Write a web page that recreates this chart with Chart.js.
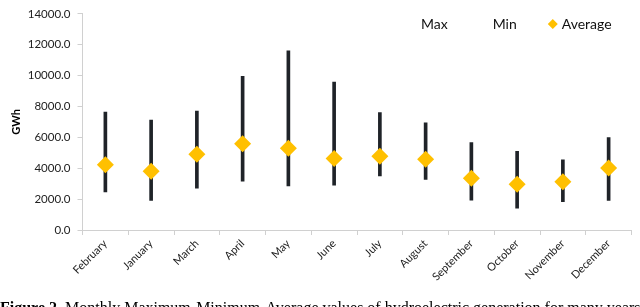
<!DOCTYPE html>
<html>
<head>
<meta charset="utf-8">
<script src="https://cdn.jsdelivr.net/npm/chart.js@4/dist/chart.umd.min.js"></script>
<style>
  html, body { margin: 0; padding: 0; background: #fff; }
  #wrap { position: relative; width: 640px; height: 307px; overflow: hidden; }
  #c { position: absolute; left: 0; top: 0; }
  #cap { position: absolute; left: 0; top: 300px; font-family: "Liberation Serif", serif; font-size: 16px; line-height: 16px; white-space: nowrap; color: #000; }
</style>
</head>
<body>
<div id="wrap">
  <canvas id="c" width="640" height="307"></canvas>
  <div id="cap"><b>Figure 2.</b> Monthly Maximum-Minimum-Average values of hydroelectric generation for many years</div>
</div>
<script>
const months = ["February","January","March","April","May","June","July","August","September","October","November","December"];
const maxValues = [7640, 7125, 7700, 9960, 11600, 9580, 7600, 6940, 5670, 5100, 4540, 5980];
const minValues = [2460, 1920, 2710, 3170, 2850, 2900, 3500, 3270, 1940, 1420, 1830, 1920];
const avgValues = [4230, 3810, 4900, 5580, 5290, 4640, 4770, 4580, 3360, 2960, 3120, 4020];
const yTicks = [0, 2000, 4000, 6000, 8000, 10000, 12000, 14000];

const rangeData = months.map((m, i) => [minValues[i], maxValues[i]]);
const FONT = "Lato, 'Liberation Sans', sans-serif";
const AXIS = '#d0d0d0';

// Excel-style legend drawn inside the plot, top right
const insideLegend = {
  id: 'insideLegend',
  afterDraw(chart) {
    const ctx = chart.ctx;
    const items = chart.data.datasets.filter(d => d.label !== 'range');
    let x = 407;
    const y = 24;
    ctx.save();
    ctx.font = '14px ' + FONT;
    ctx.textBaseline = 'middle';
    ctx.textAlign = 'left';
    items.forEach(d => {
      if (d.pointStyle === 'rectRot') {
        const cx = x + 5, r = 5;
        ctx.fillStyle = d.backgroundColor;
        ctx.beginPath();
        ctx.moveTo(cx, y - r); ctx.lineTo(cx + r, y); ctx.lineTo(cx, y + r); ctx.lineTo(cx - r, y);
        ctx.closePath(); ctx.fill();
      }
      x += 14;
      ctx.fillStyle = '#111';
      ctx.fillText(d.label, x, y);
      x += ctx.measureText(d.label).width + 31;
    });
    ctx.restore();
  }
};

new Chart(document.getElementById('c'), {
  data: {
    labels: months,
    datasets: [
      { type: 'line', label: 'Max', data: maxValues, showLine: false, pointRadius: 0, pointHoverRadius: 0,
        backgroundColor: 'rgba(0,0,0,0)', borderColor: 'rgba(0,0,0,0)', order: 1 },
      { type: 'line', label: 'Min', data: minValues, showLine: false, pointRadius: 0, pointHoverRadius: 0,
        backgroundColor: 'rgba(0,0,0,0)', borderColor: 'rgba(0,0,0,0)', order: 1 },
      { type: 'line', label: 'Average', data: avgValues, showLine: false, pointStyle: 'rectRot',
        pointRadius: 8.5, backgroundColor: '#FFC000', borderColor: '#FFC000', borderWidth: 0, order: 0 },
      { type: 'bar', label: 'range', data: rangeData, barThickness: 3, backgroundColor: '#1f2328',
        borderWidth: 0, order: 2 }
    ]
  },
  options: {
    responsive: false,
    animation: false,
    layout: { padding: { top: 6, right: 3, left: 0, bottom: 0 } },
    plugins: {
      tooltip: { enabled: false },
      legend: { display: false }
    },
    scales: {
      x: {
        offset: true,
        grid: { display: true, drawOnChartArea: false, offset: true, tickLength: 5, color: AXIS },
        border: { color: AXIS, width: 1 },
        ticks: { maxRotation: 45, minRotation: 45, autoSkip: false, color: '#222', padding: 2,
                 font: { family: FONT, size: 11 } },
        afterFit: (s) => { s.height = 77; }
      },
      y: {
        min: 0, max: 14000,
        afterBuildTicks: (s) => { s.ticks = yTicks.map(v => ({ value: v })); },
        grid: { display: true, drawOnChartArea: false, tickLength: 5, color: AXIS },
        border: { color: AXIS, width: 1 },
        ticks: { color: '#222', padding: 7, font: { family: FONT, size: 11.5 },
                 callback: (v) => Number(v).toFixed(1) },
        title: { display: true, text: 'GWh', color: '#000', padding: { top: 10, bottom: 0 },
                 font: { family: FONT, size: 11, weight: 'bold' } },
        afterFit: (s) => { s.width = 82.5; }
      }
    }
  },
  plugins: [insideLegend]
});
</script>
</body>
</html>
